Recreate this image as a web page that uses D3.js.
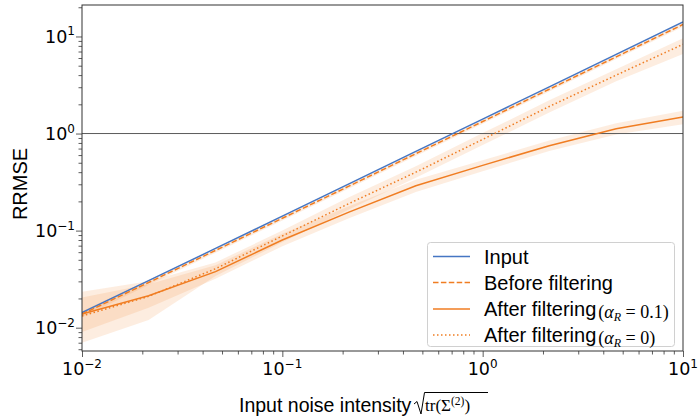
<!DOCTYPE html>
<html>
<head>
<meta charset="utf-8">
<script src="https://cdn.jsdelivr.net/npm/d3@7"></script>
<style>
  html, body { margin: 0; padding: 0; background: #fff; }
  svg { display: block; }
</style>
</head>
<body>
<svg id="chart" width="698" height="418"></svg>
<script>
// ---------- data ----------
const xVals        = [0.01, 0.0215, 0.0464, 0.1, 0.215, 0.464, 1, 2.15, 4.64, 10];
const inputVals    = [0.0143, 0.0305, 0.0655, 0.141, 0.303, 0.655, 1.41, 3.03, 6.55, 14.1];
const beforeVals   = [0.0138, 0.0292, 0.0625, 0.134, 0.287, 0.62, 1.33, 2.86, 6.17, 13.3];
const beforeLo     = [0.0128, 0.0275, 0.0592, 0.127, 0.272, 0.588, 1.26, 2.71, 5.85, 12.6];
const beforeHi     = [0.0148, 0.0309, 0.0658, 0.141, 0.302, 0.652, 1.40, 3.01, 6.49, 14.0];
const alpha01Vals  = [0.0138, 0.0213, 0.0378, 0.080, 0.155, 0.29, 0.47, 0.75, 1.12, 1.48];
const alpha01Lo    = [0.0090, 0.0160, 0.0320, 0.069, 0.134, 0.25, 0.41, 0.66, 0.98, 1.25];
const alpha01Hi    = [0.0205, 0.0280, 0.0440, 0.093, 0.178, 0.335, 0.53, 0.85, 1.28, 1.72];
const alpha0Vals   = [0.0132, 0.0210, 0.0405, 0.088, 0.19, 0.40, 0.87, 1.9, 4.0, 8.3];
const alpha0Lo     = [0.0070, 0.0120, 0.0340, 0.076, 0.165, 0.35, 0.76, 1.65, 3.45, 6.6];
const alpha0Hi     = [0.0235, 0.0300, 0.0470, 0.100, 0.220, 0.46, 1.01, 2.2, 4.6, 9.6];
const xTickVals    = [0.01, 0.1, 1, 10];
const xTickExps    = ["\u22122", "\u22121", "0", "1"];
const yTickVals    = [0.01, 0.1, 1, 10];
const yTickExps    = ["\u22122", "\u22121", "0", "1"];
const legendLabels = ["Input", "Before filtering", "After filtering", "After filtering"];
const legendMath   = [null, null, "0.1", "0"];

// ---------- layout ----------
const L = 82, R = 683, T = 5, B = 351;
const blue = "#4576c3", orange = "#f07d22";
const svg = d3.select("#chart");

const x = d3.scaleLog().domain([0.01, 10]).range([L, R]);
const y = d3.scaleLog().domain([0.00575, 21.1]).range([B, T]);

svg.append("clipPath").attr("id", "clip")
  .append("rect").attr("x", L).attr("y", T).attr("width", R - L).attr("height", B - T);

const plot = svg.append("g").attr("clip-path", "url(#clip)");

// bands
function band(lo, hi) {
  const a = d3.area().x((d, i) => x(xVals[i])).y0((d, i) => y(lo[i])).y1((d, i) => y(hi[i]));
  plot.append("path").attr("d", a(xVals)).attr("fill", orange).attr("fill-opacity", 0.14).attr("stroke", "none");
}
band(beforeLo, beforeHi);
band(alpha01Lo, alpha01Hi);
band(alpha0Lo, alpha0Hi);

// horizontal reference line at 1
plot.append("line").attr("x1", L).attr("x2", R).attr("y1", y(1)).attr("y2", y(1))
  .attr("stroke", "#5a5a5a").attr("stroke-width", 1);

// lines
function line(vals, color, dash) {
  const l = d3.line().x((d, i) => x(xVals[i])).y((d, i) => y(vals[i]));
  const p = plot.append("path").attr("d", l(xVals)).attr("fill", "none")
    .attr("stroke", color).attr("stroke-width", 1.5);
  if (dash) p.attr("stroke-dasharray", dash);
}
line(inputVals, blue, null);
line(beforeVals, orange, "5.5,2.4");
line(alpha01Vals, orange, null);
line(alpha0Vals, orange, "1.5,2.5");

// axes
const xAxis = d3.axisBottom(x).tickValues(xTickVals).tickSize(6).tickFormat("");
const yAxis = d3.axisLeft(y).tickValues(yTickVals).tickSize(6).tickFormat("");
const minorX = [], minorY = [];
[0.01, 0.1, 1].forEach(d => { for (let k = 2; k <= 9; k++) minorX.push(d * k); });
[0.001, 0.01, 0.1, 1, 10].forEach(d => { for (let k = 2; k <= 9; k++) { const v = d * k; if (v > 0.00575 && v < 21.1) minorY.push(v); } });

const gx = svg.append("g").attr("transform", `translate(0,${B})`).call(xAxis);
svg.append("g").attr("transform", `translate(0,${B})`)
  .call(d3.axisBottom(x).tickValues(minorX).tickSize(3.5).tickFormat(""))
  .call(g => g.select(".domain").remove());
const gy = svg.append("g").attr("transform", `translate(${L},0)`).call(yAxis);
svg.append("g").attr("transform", `translate(${L},0)`)
  .call(d3.axisLeft(y).tickValues(minorY).tickSize(3.5).tickFormat(""))
  .call(g => g.select(".domain").remove());
svg.selectAll(".tick line").attr("stroke", "#333").attr("stroke-width", 0.8);
gx.select(".domain").remove();
gy.select(".domain").remove();

// frame
svg.append("rect").attr("x", L).attr("y", T).attr("width", R - L).attr("height", B - T)
  .attr("fill", "none").attr("stroke", "#333").attr("stroke-width", 1);

// tick labels
const tickFont = "DejaVu Sans";
xTickVals.forEach((v, i) => {
  const t = svg.append("text").attr("x", x(v)).attr("y", 375).attr("text-anchor", "middle")
    .attr("font-family", tickFont).attr("font-size", 17.5).attr("fill", "#000");
  t.append("tspan").text("10");
  t.append("tspan").attr("dy", -7.5).attr("font-size", 12).text(xTickExps[i]);
});
yTickVals.forEach((v, i) => {
  const t = svg.append("text").attr("x", 75).attr("y", y(v) + 6.5).attr("text-anchor", "end")
    .attr("font-family", tickFont).attr("font-size", 17.5).attr("fill", "#000");
  t.append("tspan").text("10");
  t.append("tspan").attr("dy", -7.5).attr("font-size", 12).text(yTickExps[i]);
});

// axis labels
const labelFont = "Liberation Sans, Arial, sans-serif";
svg.append("text").attr("transform", "translate(27,184) rotate(-90)").attr("text-anchor", "middle")
  .attr("font-family", labelFont).attr("font-size", 20).attr("fill", "#000").text("RRMSE");

svg.append("text").attr("x", 239).attr("y", 412).attr("font-family", labelFont)
  .attr("font-size", 19.5).attr("fill", "#000").text("Input noise intensity");
// radical
svg.append("path").attr("d", "M414,404 L417,401.5 L421,414 L424.5,392.5 L488,392.5")
  .attr("fill", "none").attr("stroke", "#000").attr("stroke-width", 1);
const mx = svg.append("text").attr("x", 425).attr("y", 411).attr("font-family", "Liberation Serif, serif")
  .attr("font-size", 17).attr("fill", "#000");
mx.append("tspan").text("tr(\u03A3");
mx.append("tspan").attr("dy", -6.5).attr("font-size", 11.5).text("(2)");
mx.append("tspan").attr("dy", 6.5).text(")");

// legend
const lg = svg.append("g");
lg.append("rect").attr("x", 427.5).attr("y", 242.5).attr("width", 247).attr("height", 104).attr("rx", 3)
  .attr("fill", "#fff").attr("fill-opacity", 0.8).attr("stroke", "#d0d0d0").attr("stroke-width", 1);
const rowsY = [256.5, 282.5, 309, 335];
const styles = [[blue, null], [orange, "5.5,2.4"], [orange, null], [orange, "1.5,2.5"]];
legendLabels.forEach((lab, i) => {
  const ly = rowsY[i];
  const ln = lg.append("line").attr("x1", 433).attr("x2", 470).attr("y1", ly).attr("y2", ly)
    .attr("stroke", styles[i][0]).attr("stroke-width", 1.5);
  if (styles[i][1]) ln.attr("stroke-dasharray", styles[i][1]);
  const tx = lg.append("text").attr("x", 484).attr("y", ly + 7).attr("font-family", labelFont)
    .attr("font-size", 20).attr("fill", "#000").text(lab);
  if (legendMath[i] !== null) {
    const w = tx.node().getComputedTextLength();
    const m = lg.append("text").attr("x", 484 + w + 2).attr("y", ly + 9)
      .attr("font-family", "Liberation Serif, serif").attr("font-size", 18).attr("fill", "#000");
    m.append("tspan").text("(");
    m.append("tspan").attr("font-style", "italic").text("\u03B1");
    m.append("tspan").attr("font-style", "italic").attr("font-size", 12).attr("dy", 3).text("R");
    m.append("tspan").attr("dy", -3).text(" = " + legendMath[i] + ")");
  }
});
</script>
</body>
</html>
